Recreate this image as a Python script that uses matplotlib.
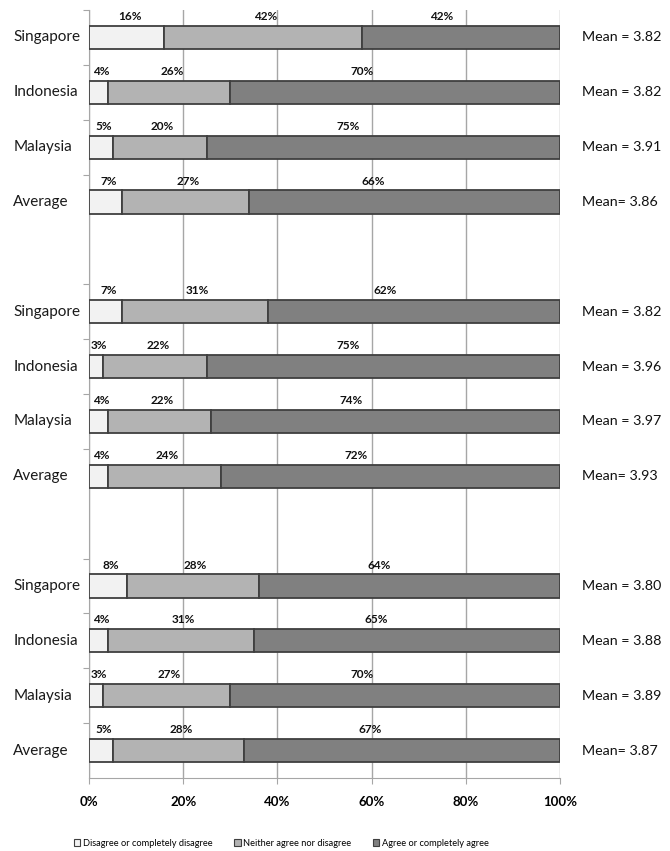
import matplotlib as mpl
mpl.use('Agg')
import matplotlib.pyplot as plt
from matplotlib.patches import Patch
import numpy as np

# survey data, three blocks of four rows each
countries = ['Singapore', 'Indonesia', 'Malaysia', 'Average']
disagree = [[16, 4, 5, 7], [7, 3, 4, 4], [8, 4, 3, 5]]
neither = [[42, 26, 20, 27], [31, 22, 22, 24], [28, 31, 27, 28]]
agree = [[42, 70, 75, 66], [62, 75, 74, 72], [64, 65, 70, 67]]
means = [['3.82', '3.82', '3.91', '3.86'],
         ['3.82', '3.96', '3.97', '3.93'],
         ['3.80', '3.88', '3.89', '3.87']]
xticks = [0, 20, 40, 60, 80, 100]
series_names = ['Disagree or completely disagree', 'Neither agree nor disagree',
                'Agree or completely agree']

colors = ['#f2f2f2', '#b3b3b3', '#808080']
edge = '#3f3f3f'
grid_c = '#a6a6a6'
plt.rcParams['font.family'] = ['Lato', 'DejaVu Sans']

fig = plt.figure(figsize=(6.7, 8.51), dpi=100)
ax = fig.add_axes((89/670, 1 - 778/851, 471/670, 768/851))

bar_h = 0.42
row_tops = []
for g in range(3):
    for i, name in enumerate(countries):
        y = g * 5 + i
        row_tops.append(y - 0.5)
        vals = [disagree[g][i], neither[g][i], agree[g][i]]
        left = 0
        for k, v in enumerate(vals):
            ax.barh(y, v, left=left, height=bar_h, color=colors[k],
                    edgecolor=edge, linewidth=1.3, zorder=3)
            if k == 2:
                lx = left + v * 0.4
            else:
                lx = left + v / 2 + 0.6
            ax.text(lx, y - bar_h / 2 - 0.07, '%d%%' % v, ha='center', va='bottom',
                    fontsize=8.5, fontweight='bold', color='#111111')
            left += v
        ax.text(-0.161, y, name, transform=ax.get_yaxis_transform(),
                ha='left', va='center', fontsize=11, color='#1a1a1a')
        sep = '= ' if i == 3 else ' = '
        ax.text(1.047, y, 'Mean' + sep + means[g][i], transform=ax.get_yaxis_transform(),
                ha='left', va='center', fontsize=10.3, color='#111111')

ax.set_xlim(0, 100)
ax.set_ylim(13.5, -0.5)
ax.set_xticks(xticks)
ax.set_xticklabels(['%d%%' % t for t in xticks], fontsize=9.5, fontweight='bold')
ax.set_yticks(row_tops)
ax.set_yticklabels([])
ax.tick_params(axis='y', direction='out', length=4, color=grid_c)
ax.tick_params(axis='x', direction='out', length=4, color=grid_c, pad=9)
ax.xaxis.grid(True, color=grid_c, linewidth=1, zorder=0)
ax.set_axisbelow(True)
for s in ['top', 'right']:
    ax.spines[s].set_visible(False)
for s in ['left', 'bottom']:
    ax.spines[s].set_color(grid_c)

handles = [Patch(facecolor=c, edgecolor=edge, linewidth=0.8) for c in colors]
fig.legend(handles, series_names, loc='center', bbox_to_anchor=(0.42, 0.0094),
           ncol=3, frameon=False, fontsize=6.7, handlelength=0.7, handleheight=0.7,
           handletextpad=0.3, columnspacing=2.3)

fig.savefig('out.png', dpi=100)
